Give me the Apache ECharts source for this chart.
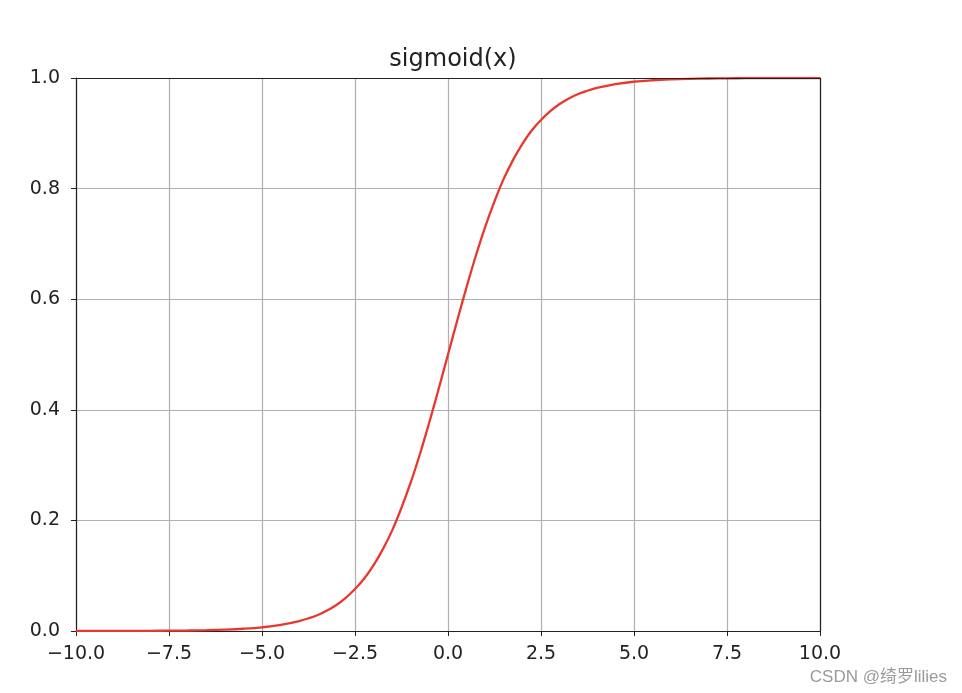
<!DOCTYPE html>
<html>
<head>
<meta charset="utf-8">
<script src="https://cdn.jsdelivr.net/npm/echarts@6/dist/echarts.min.js"></script>
<style>html,body{margin:0;padding:0;background:#fff}#c{width:962px;height:693px}</style>
</head>
<body>
<div id="c"></div>
<script>
// x positions
const xValues = [-10,-9.5,-9,-8.5,-8,-7.5,-7,-6.5,-6,-5.5,-5,-4.5,-4,-3.75,-3.5,-3.25,-3,-2.75,-2.5,-2.25,-2,-1.75,-1.5,-1.25,-1,-0.75,-0.5,-0.25,0,0.25,0.5,0.75,1,1.25,1.5,1.75,2,2.25,2.5,2.75,3,3.25,3.5,3.75,4,4.5,5,5.5,6,6.5,7,7.5,8,8.5,9,9.5,10];
// y values
const yValues = [0.0000,0.0001,0.0001,0.0002,0.0003,0.0006,0.0009,0.0015,0.0025,0.0041,0.0067,0.011,0.018,0.023,0.029,0.037,0.047,0.060,0.076,0.095,0.119,0.148,0.182,0.223,0.269,0.321,0.378,0.438,0.500,0.562,0.622,0.679,0.731,0.777,0.818,0.852,0.881,0.905,0.924,0.940,0.953,0.963,0.971,0.977,0.982,0.989,0.9933,0.9959,0.9975,0.9985,0.9991,0.9994,0.9997,0.9998,0.9999,0.9999,1.0000];
const xTicks = [-10,-7.5,-5,-2.5,0,2.5,5,7.5,10];
const yTicks = [0,0.2,0.4,0.6,0.8,1.0];
const titleText = 'sigmoid(x)';
const watermark = 'CSDN @绮罗lilies';

const fmt = v => v.toFixed(1).replace('-', '\u2212');
const font = 'DejaVu Sans';
const chart = echarts.init(document.getElementById('c'), null, {renderer: 'canvas'});
const boxAxis = {
  axisLine: {show: true, onZero: false, lineStyle: {color: '#222', width: 1.2}},
  axisTick: {show: false}, axisLabel: {show: false}, splitLine: {show: false}, z: 10
};
chart.setOption({
  animation: false,
  backgroundColor: '#fff',
  title: {
    text: titleText, left: 448, top: 43, textAlign: 'center',
    textStyle: {fontFamily: font, fontSize: 24, fontWeight: 'normal', color: '#222'}
  },
  grid: {left: 76, right: 142, top: 78, bottom: 62, containLabel: false},
  xAxis: [{
    type: 'value', min: xTicks[0], max: xTicks[xTicks.length-1], interval: 2.5,
    axisLine: {show: true, onZero: false, lineStyle: {color: '#222', width: 1.2}},
    axisTick: {show: true, inside: false, length: 5, lineStyle: {color: '#222'}},
    axisLabel: {formatter: fmt, margin: 14, fontFamily: font, fontSize: 19, color: '#222'},
    splitLine: {show: true, lineStyle: {color: '#b0b0b0', width: 1.2}}
  }, Object.assign({type: 'value', position: 'top', min: -10, max: 10}, boxAxis)],
  yAxis: [{
    type: 'value', min: yTicks[0], max: yTicks[yTicks.length-1], interval: 0.2,
    axisLine: {show: true, onZero: false, lineStyle: {color: '#222', width: 1.2}},
    axisTick: {show: true, inside: false, length: 5, lineStyle: {color: '#222'}},
    axisLabel: {formatter: fmt, margin: 16, fontFamily: font, fontSize: 19, color: '#222'},
    splitLine: {show: true, lineStyle: {color: '#b0b0b0', width: 1.2}}
  }, Object.assign({type: 'value', position: 'right', min: 0, max: 1}, boxAxis)],
  series: [{
    type: 'line', smooth: 0.4, symbol: 'none',
    data: xValues.map((x, i) => [x, yValues[i]]),
    lineStyle: {color: '#e8382e', width: 2.3},
    z: 5
  }],
  graphic: [{
    type: 'text', right: 15, bottom: 7,
    style: {text: watermark, fontFamily: '"Liberation Sans", "Noto Sans CJK SC", sans-serif', fontSize: 17, fill: '#9a9a9a'}
  }]
});
</script>
</body>
</html>
